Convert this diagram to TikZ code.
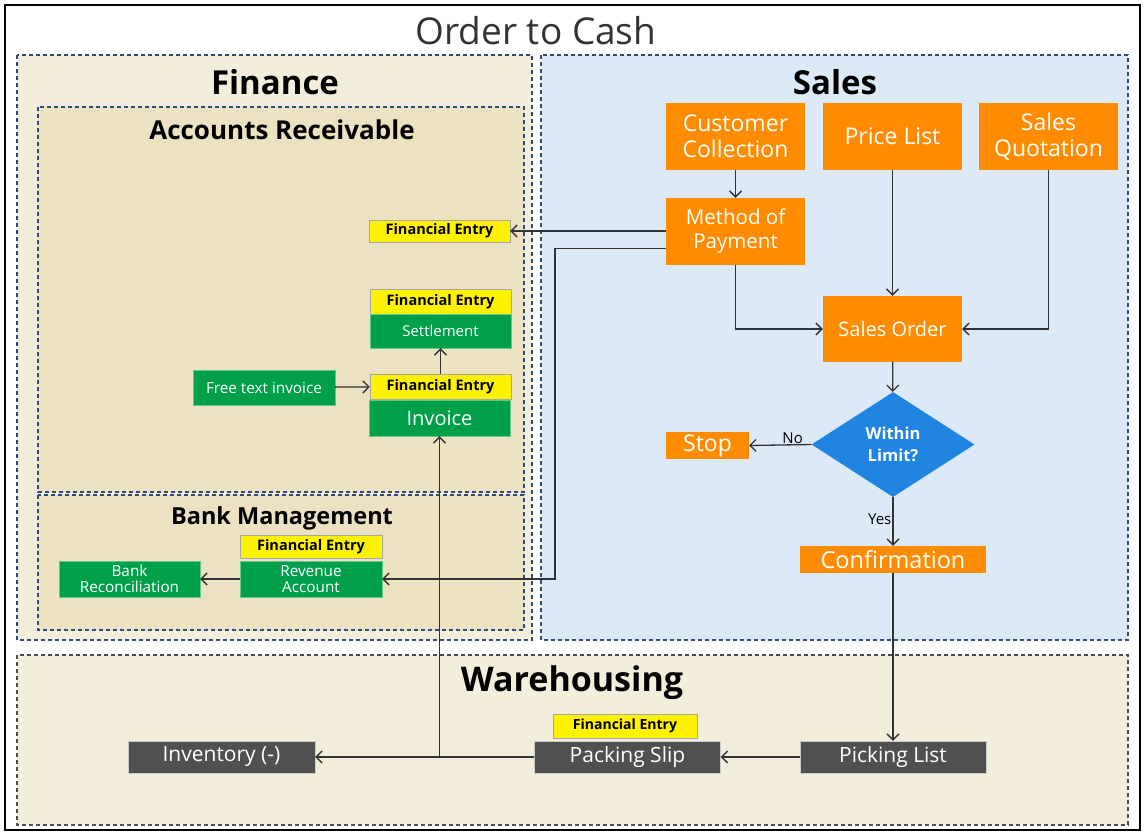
\documentclass[tikz,border=0pt]{standalone}
\usepackage{fontspec}
\setmainfont{Open Sans}
\usetikzlibrary{shapes.geometric, arrows.meta, positioning, calc}
\definecolor{salesorange}{HTML}{FF8C00}
\definecolor{ledgergreen}{HTML}{00A04A}
\definecolor{entryyellow}{HTML}{FFF200}
\definecolor{stockgrey}{HTML}{505050}
\definecolor{limitblue}{HTML}{1F85E0}
\definecolor{financebg}{HTML}{F3EEDC}
\definecolor{ledgerbg}{HTML}{ECE2C1}
\definecolor{salesbg}{HTML}{DCEAF8}
\definecolor{framedash}{HTML}{2F4B7C}
\definecolor{wiregrey}{HTML}{333333}
\tikzstyle{area} = [draw=framedash, line width=1.2pt, dash pattern=on 4pt off 3pt]
\tikzstyle{salesbox} = [rectangle, fill=salesorange, text=white, align=center,
                        inner sep=0pt, minimum width=139pt, minimum height=67pt]
\tikzstyle{ledger} = [rectangle, fill=ledgergreen, draw=ledgergreen!60!white, text=white,
                      align=center, inner sep=0pt, minimum width=141pt]
\tikzstyle{entry} = [rectangle, fill=entryyellow, draw=black!35, text=black, inner sep=0pt,
                     minimum width=141pt, font=\bfseries\fontsize{14.5}{17}\selectfont]
\tikzstyle{stock} = [rectangle, fill=stockgrey, draw=black!20, text=white, inner sep=0pt,
                     minimum width=186pt, minimum height=32pt, font=\fontsize{21}{24}\selectfont]
\tikzstyle{heading} = [font=\bfseries\fontsize{33}{40}\selectfont]
\tikzstyle{subheading} = [font=\bfseries\fontsize{26}{30}\selectfont]
\tikzstyle{arrow} = [-{Straight Barb[length=6pt, width=12pt]}, line width=1.3pt, draw=wiregrey]
\tikzstyle{wire} = [line width=1.3pt, draw=wiregrey]

\begin{document}
\begin{tikzpicture}[x=1pt, y=-1pt]
    \useasboundingbox (0,0) rectangle (1145,833);
    \fill[white] (0,0) rectangle (1145,833);
    \draw[line width=2pt] (5,5) rectangle (1140,830);
    \node[font=\fontsize{37}{44}\selectfont, text=black!80] (title) at (536,31) {Order to Cash};

    % Areas
    \draw[area, fill=financebg] (17,55) rectangle (532,640);
    \draw[area, fill=salesbg] (541,55) rectangle (1128,640);
    \draw[area, fill=ledgerbg] (38,107) rectangle (524,492);
    \draw[area, fill=ledgerbg] (38,495) rectangle (524,630);
    \draw[area, draw=black!70, fill=financebg] (17,655) rectangle (1128,825);

    \node[heading] (finance) at (275,82) {Finance};
    \node[heading] (sales) at (835,82) {Sales};
    \node[subheading] (receivable) at (282,130) {Accounts Receivable};
    \node[font=\bfseries\fontsize{23.5}{28}\selectfont] (bank) at (282,518) {Bank Management};
    \node[font=\bfseries\fontsize{34}{40}\selectfont] (warehousing) at (572,683) {Warehousing};

    % Sales
    \node[salesbox, font=\fontsize{23}{26}\selectfont] (collection) at (735.5,136.5) {Customer\\Collection};
    \node[salesbox, font=\fontsize{23}{26}\selectfont] (pricelist) at (892.5,136.5) {Price List};
    \node[salesbox, font=\fontsize{23}{26}\selectfont] (quotation) at (1048.5,136.5) {Sales\\Quotation};
    \node[salesbox, font=\fontsize{20.5}{24}\selectfont] (payment) at (735.5,231.5) {Method of\\Payment};
    \node[salesbox, font=\fontsize{20}{24}\selectfont, minimum height=66pt] (salesorder) at (892.5,329) {Sales Order};
    \node[diamond, fill=limitblue, text=white, align=center, inner sep=0pt,
          minimum width=163pt, minimum height=105pt,
          font=\bfseries\fontsize{16.5}{22}\selectfont] (limit) at (893,444.5) {Within\\Limit?};
    \node[salesbox, minimum width=83pt, minimum height=27pt, font=\fontsize{23}{26}\selectfont] (stop) at (707.5,445.5) {Stop};
    \node[salesbox, minimum width=186pt, minimum height=27pt, font=\fontsize{23.5}{26}\selectfont] (confirmation) at (893,559.5) {Confirmation};

    % Accounts receivable
    \node[entry, minimum height=22pt] (paymententry) at (439.5,231) {Financial Entry};
    \node[entry, minimum height=25pt] (settleentry) at (440.5,301.5) {Financial Entry};
    \node[ledger, minimum height=34pt, font=\fontsize{15}{18}\selectfont] (settlement) at (440.5,331) {Settlement};
    \node[ledger, minimum width=142pt, minimum height=35pt, font=\fontsize{15.3}{18}\selectfont] (freetext) at (264,387.5) {Free text invoice};
    \node[entry, minimum height=25pt] (invoiceentry) at (440.5,386.5) {Financial Entry};
    \node[ledger, minimum height=36pt, font=\fontsize{20}{23}\selectfont] (invoice) at (439.5,418) {Invoice};

    % Bank management
    \node[entry, minimum width=142pt, minimum height=23pt] (revenueentry) at (311,546.5) {Financial Entry};
    \node[ledger, minimum width=142pt, minimum height=36pt, font=\fontsize{15.3}{16.5}\selectfont] (revenue) at (311,579) {Revenue\\Account};
    \node[ledger, minimum height=36pt, font=\fontsize{15.3}{16.5}\selectfont] (reconciliation) at (129.5,579) {Bank\\Reconciliation};

    % Warehousing
    \node[entry, minimum width=144pt, minimum height=24pt, font=\bfseries\fontsize{14}{16}\selectfont] (packingentry) at (625,726) {Financial Entry};
    \node[stock] (packing) at (627.5,757) {Packing Slip};
    \node[stock, minimum width=187pt] (inventory) at (221.5,757) {Inventory (-)};
    \node[stock] (picking) at (893,757) {Picking List};

    \coordinate (revenueturn) at (555,579);
    \coordinate (invoicetap) at (invoice.south |- packing.west);

    % Connectors
    \draw[arrow] (collection) -- (payment);
    \draw[arrow] (payment.west |- paymententry.east) -- (paymententry.east);
    \draw[arrow] ([yshift=-17pt]payment.west) -| (revenueturn) -- (revenue.east);
    \draw[arrow] (payment.south) |- (salesorder.west);
    \draw[arrow] (pricelist) -- (salesorder);
    \draw[arrow] (quotation.south) |- (salesorder.east);
    \draw[arrow] (salesorder) -- (limit);
    \draw[arrow] (limit.west) -- node[above, pos=0.3, font=\fontsize{15}{18}\selectfont, inner sep=1pt] {No} (stop.east);
    \draw[arrow] (limit.south) -- node[left, pos=0.45, font=\fontsize{15}{18}\selectfont, inner sep=1pt] {Yes} (confirmation.north);
    \draw[arrow] (confirmation) -- (picking);
    \draw[arrow] (picking) -- (packing);
    \draw[arrow] (packing) -- (inventory);
    \draw[arrow] (invoicetap) -- (invoice.south);
    \draw[arrow] (freetext) -- (invoiceentry);
    \draw[arrow] (invoiceentry) -- (settlement);
    \draw[arrow] (revenue) -- (reconciliation);
\end{tikzpicture}
\end{document}
